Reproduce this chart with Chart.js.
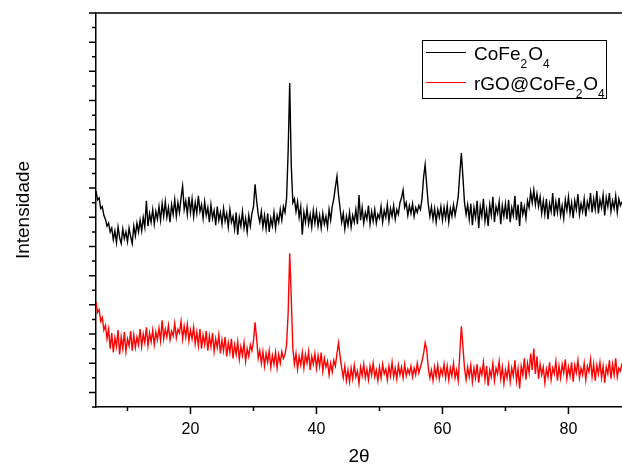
<!DOCTYPE html>
<html>
<head>
<meta charset="utf-8">
<script src="https://cdn.jsdelivr.net/npm/chart.js@4.4.0/dist/chart.umd.min.js"></script>
<style>
  html, body { margin: 0; padding: 0; background: #fff; }
  #wrap { width: 622px; height: 466px; }
</style>
</head>
<body>
<div id="wrap"><canvas id="xrd" width="622" height="466"></canvas></div>
<script>
// scan grid (2theta, degrees)
const twoThetaStart = 5;
const twoThetaStep = 0.25;

const seriesNames = ['CoFe2O4', 'rGO@CoFe2O4'];
const seriesColors = ['#000000', '#ff0000'];

// intensities (arb. units), one value per 0.25 deg from 5 to 88.5
const cofe2o4 = [
  222,213,215,204,206,197,193,186,189,180,184,172,181,169,185,174,168,183,173,180,
  170,184,175,168,186,176,189,180,192,181,195,185,212,186,199,190,203,188,201,193,
  206,192,209,196,211,195,205,190,208,198,213,196,210,200,215,227,203,212,198,216,
  200,214,196,210,199,217,201,208,194,211,197,205,190,208,194,202,187,206,192,200,
  188,204,191,199,185,203,190,196,183,200,177,195,186,201,184,194,180,197,186,199,
  206,229,212,198,190,201,185,197,183,199,180,194,186,200,184,197,190,203,192,206,
  200,214,262,333,248,210,214,201,211,195,206,177,200,190,204,188,198,185,202,189,
  201,186,197,184,199,188,196,185,203,192,206,214,226,237,218,204,190,199,183,196,
  187,200,185,197,190,203,188,218,192,205,189,200,193,207,188,201,191,203,189,198,
  194,206,190,202,195,208,191,204,196,207,193,203,198,210,215,223,205,210,197,207,
  199,209,196,205,200,207,203,214,236,249,228,208,196,206,193,204,190,203,195,206,
  192,205,194,207,190,204,196,208,197,206,216,240,261,236,210,198,208,193,209,187,
  205,195,212,184,206,196,214,191,203,186,208,197,216,190,206,199,211,188,207,196,
  209,193,213,190,205,197,217,192,208,186,211,198,206,194,212,205,221,210,223,208,
  219,206,216,199,212,198,214,193,209,201,220,196,211,200,215,197,207,194,213,202,
  216,199,210,194,212,203,219,198,209,201,214,196,211,204,220,200,214,203,222,199,
  213,205,218,197,215,206,220,201,212,204,217,200,214,207,211
];

const rgoCofe2o4 = [
  108,97,100,88,92,79,84,70,80,60,76,56,71,62,79,54,72,60,77,57,
  70,63,78,58,74,61,72,64,80,62,75,66,82,63,76,67,79,64,77,69,
  81,68,89,70,80,72,84,69,78,73,86,71,80,76,88,70,83,72,85,68,
  79,70,82,65,77,63,80,60,74,64,78,58,73,62,76,57,70,61,74,55,
  69,58,72,52,66,56,70,50,64,54,67,49,62,53,66,47,60,52,64,58,
  68,87,70,50,58,45,57,42,55,46,58,41,53,44,56,40,54,45,57,50,
  54,64,96,158,112,60,44,55,39,52,43,56,40,54,45,57,38,52,44,55,
  40,53,42,56,37,50,41,47,33,45,36,48,42,55,66,52,40,30,42,27,
  38,26,40,29,43,31,37,24,41,32,44,30,39,28,42,33,45,31,38,27,
  41,30,44,34,39,28,42,32,46,31,40,29,43,33,41,30,44,32,39,34,
  42,31,40,33,45,35,41,47,55,66,59,40,30,38,27,41,31,43,29,39,
  33,44,30,42,28,40,32,45,30,38,27,55,83,62,40,28,41,31,43,26,
  40,30,44,25,39,33,46,28,42,22,38,31,45,27,40,34,47,29,41,24,
  38,30,43,26,40,32,48,27,39,19,42,33,50,28,45,35,55,38,60,34,
  52,29,44,33,41,25,39,31,46,28,40,34,47,27,42,30,44,35,49,29,
  41,32,46,26,43,35,48,30,40,33,45,28,42,36,49,31,44,27,43,34,
  46,30,42,25,41,34,48,29,44,33,50,31,40,37,45
];

const xTicks = [10, 20, 30, 40, 50, 60, 70, 80];
const xTickLabels = ['20', '40', '60', '80'];
const yTicks = [0, 15, 30, 45, 60, 75, 90, 105, 120, 135, 150, 165, 180, 195, 210,
  225, 240, 255, 270, 285, 300, 315, 330, 345, 360, 375, 390, 405];

const FONT = '"Liberation Sans", Arial, sans-serif';

function toPoints(values) {
  return values.map((v, i) => ({ x: twoThetaStart + i * twoThetaStep, y: v }));
}

// text with digits drawn as subscripts (chemical formulas)
function drawFormula(ctx, text, x, baseline) {
  text.split(/(\d+)/).forEach(part => {
    if (!part) return;
    const sub = /^\d+$/.test(part);
    ctx.font = (sub ? '12px ' : '19px ') + FONT;
    ctx.fillText(part, x, sub ? baseline + 8 : baseline);
    x += ctx.measureText(part).width + (sub ? 1 : 0);
  });
}

const framePlugin = {
  id: 'frame',
  afterDraw(chart) {
    const { ctx, chartArea: a, scales: { x, y } } = chart;
    ctx.save();
    ctx.strokeStyle = '#000';
    ctx.lineWidth = 1.5;
    ctx.beginPath();
    ctx.moveTo(a.left, a.top);
    ctx.lineTo(a.right, a.top);
    y.ticks.forEach(t => {
      const py = y.getPixelForValue(t.value);
      const major = (t.value - 15) % 30 === 0;
      ctx.moveTo(a.left - (major ? 7 : 4), py);
      ctx.lineTo(a.left, py);
    });
    x.ticks.forEach(t => {
      const px = x.getPixelForValue(t.value);
      const major = t.value % 20 === 0;
      ctx.moveTo(px, a.bottom);
      ctx.lineTo(px, a.bottom + (major ? 7 : 4));
    });
    ctx.stroke();

    // legend
    ctx.lineWidth = 1;
    ctx.strokeRect(422.5, 40.5, 184, 58);
    const rows = [52.5, 82.5];
    chart.data.datasets.forEach((ds, i) => {
      ctx.strokeStyle = ds.borderColor;
      ctx.beginPath();
      ctx.moveTo(426, rows[i]);
      ctx.lineTo(466, rows[i]);
      ctx.stroke();
      ctx.fillStyle = '#000';
      ctx.textBaseline = 'alphabetic';
      ctx.textAlign = 'left';
      drawFormula(ctx, ds.label, 474, rows[i] + 7);
    });
    ctx.restore();
  }
};

new Chart(document.getElementById('xrd'), {
  type: 'line',
  data: {
    datasets: [
      {
        label: seriesNames[0],
        data: toPoints(cofe2o4),
        borderColor: seriesColors[0],
        borderWidth: 1.4,
        pointRadius: 0,
        tension: 0
      },
      {
        label: seriesNames[1],
        data: toPoints(rgoCofe2o4),
        borderColor: seriesColors[1],
        borderWidth: 1.4,
        pointRadius: 0,
        tension: 0
      }
    ]
  },
  options: {
    responsive: false,
    animation: false,
    devicePixelRatio: 1,
    events: [],
    layout: { padding: { top: 13, right: 0, bottom: 0, left: 0 } },
    plugins: {
      legend: { display: false },
      tooltip: { enabled: false }
    },
    scales: {
      x: {
        type: 'linear',
        min: 5,
        max: 88.5,
        afterBuildTicks: s => { s.ticks = xTicks.map(v => ({ value: v })); },
        afterFit: s => { s.height = 59; },
        grid: { display: false, drawTicks: false },
        border: { display: true, color: '#000', width: 1.5 },
        ticks: {
          autoSkip: false,
          maxRotation: 0,
          padding: 13,
          color: '#000',
          font: { family: FONT, size: 16 },
          callback: v => xTickLabels.includes(String(v)) ? String(v) : ''
        },
        title: {
          display: true,
          text: '2θ',
          color: '#000',
          font: { family: FONT, size: 19, lineHeight: 1 },
          padding: { top: 0, bottom: 0 }
        }
      },
      y: {
        type: 'linear',
        min: 0,
        max: 405,
        afterBuildTicks: s => { s.ticks = yTicks.map(v => ({ value: v })); },
        afterFit: s => { s.width = 96; },
        grid: { display: false, drawTicks: false },
        border: { display: true, color: '#000', width: 1.5 },
        ticks: { display: false },
        title: {
          display: true,
          text: 'Intensidade',
          color: '#000',
          font: { family: FONT, size: 19, lineHeight: 1 },
          padding: { top: 14, bottom: 0 }
        }
      }
    }
  },
  plugins: [framePlugin]
});
</script>
</body>
</html>
